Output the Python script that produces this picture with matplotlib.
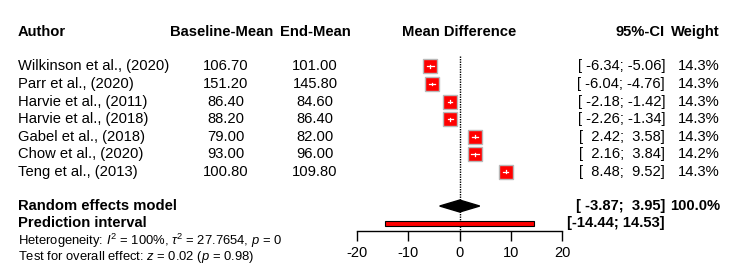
import matplotlib.pyplot as plt
import matplotlib.transforms as mtransforms
from matplotlib.patches import Polygon, Rectangle

plt.rcParams['font.family'] = ['Liberation Sans', 'DejaVu Sans']
plt.rcParams['mathtext.fontset'] = 'custom'
plt.rcParams['mathtext.rm'] = 'Liberation Sans'
plt.rcParams['mathtext.it'] = 'Liberation Sans:italic'
plt.rcParams['axes.unicode_minus'] = False

# study data
authors = ["Wilkinson et al., (2020)", "Parr et al., (2020)", "Harvie et al., (2011)",
           "Harvie et al., (2018)", "Gabel et al., (2018)", "Chow et al., (2020)",
           "Teng et al., (2013)"]
baseline = [106.70, 151.20, 86.40, 88.20, 79.00, 93.00, 100.80]
end_mean = [101.00, 145.80, 84.60, 86.40, 82.00, 96.00, 109.80]
md = [-5.70, -5.40, -1.80, -1.80, 3.00, 3.00, 9.00]
ci_low = [-6.34, -6.04, -2.18, -2.26, 2.42, 2.16, 8.48]
ci_high = [-5.06, -4.76, -1.42, -1.34, 3.58, 3.84, 9.52]
weights = [14.3, 14.3, 14.3, 14.3, 14.3, 14.2, 14.3]

# pooled results
re_est, re_low, re_high = 0.04, -3.87, 3.95
pi_low, pi_high = -14.44, 14.53
xticks = [-20, -10, 0, 10, 20]

fig = plt.figure(figsize=(7.5, 2.8), dpi=100)
ax = fig.add_axes([357 / 750, 0.176, 205 / 750, 0.753])
ax.set_xlim(-20, 20)
ax.set_ylim(9.356, -2.65)

rows = list(range(len(authors)))
y_head, y_re, y_pi, y_het, y_test = -1.95, 7.95, 8.93, 9.93, 10.87

# reference line at 0
ax.plot([0, 0], [-0.6, 9.356], color='black', lw=1, ls=(0, (1, 0.8)), zorder=1)

# study squares with white CI line inside
ax.plot(md, rows, ls='none', marker='s', ms=10, mfc='red', mec='#b8b8b8', mew=1, zorder=3)
for y, lo, hi, m in zip(rows, ci_low, ci_high, md):
    ax.plot([lo, hi], [y, y], color='white', lw=0.9, zorder=4)
    ax.plot([m, m], [y - 0.08, y + 0.08], color='white', lw=0.9, zorder=4)

# random effects diamond
ax.add_patch(Polygon([(re_low, y_re), (re_est, y_re - 0.34), (re_high, y_re), (re_est, y_re + 0.34)],
                     closed=True, facecolor='black', edgecolor='black', zorder=3))

# prediction interval bar
ax.add_patch(Rectangle((pi_low, y_pi - 0.13), pi_high - pi_low, 0.26,
                       facecolor='red', edgecolor='black', lw=0.8, zorder=3))

for s in ['top', 'right', 'left']:
    ax.spines[s].set_visible(False)
ax.spines['bottom'].set_linewidth(1)
ax.set_yticks([])
ax.set_xticks(xticks)
ax.set_xticklabels([str(t) for t in xticks])
ax.tick_params(axis='x', direction='out', length=7, width=1, labelsize=10.5, pad=4)

tr = mtransforms.blended_transform_factory(fig.transFigure, ax.transData)
fs = 10.6

def put(x, y, s, ha='left', bold=False, size=fs):
    ax.text(x / 750, y, s, transform=tr, ha=ha, va='center', fontsize=size,
            fontweight='bold' if bold else 'normal', clip_on=False)

# header
put(18, y_head, "Author", bold=True)
put(222, y_head, "Baseline-Mean", ha='center', bold=True)
put(315, y_head, "End-Mean", ha='center', bold=True)
put(459, y_head, "Mean Difference", ha='center', bold=True)
put(665, y_head, "95%-CI", ha='right', bold=True)
put(720, y_head, "Weight", ha='right', bold=True)

for y, a, b, e, lo, hi, w in zip(rows, authors, baseline, end_mean, ci_low, ci_high, weights):
    put(18, y, a)
    put(226, y, f"{b:.2f}", ha='center')
    put(315, y, f"{e:.2f}", ha='center')
    put(665, y, f"[{lo:6.2f}; {hi:5.2f}]", ha='right')
    put(720, y, f"{w:.1f}%", ha='right')

put(18, y_re, "Random effects model", bold=True)
put(665, y_re, f"[{re_low:6.2f}; {re_high:5.2f}]", ha='right', bold=True)
put(720, y_re, "100.0%", ha='right', bold=True)
put(18, y_pi, "Prediction interval", bold=True)
put(665, y_pi, f"[{pi_low:6.2f}; {pi_high:5.2f}]", ha='right', bold=True)

put(18, y_het, r"Heterogeneity: $\mathit{I}^2$ = 100%, $\tau^2$ = 27.7654, $\mathit{p}$ = 0", size=9.4)
put(18, y_test, r"Test for overall effect: $\mathit{z}$ = 0.02 ($\mathit{p}$ = 0.98)", size=9.4)

fig.savefig("out.png", dpi=100)
